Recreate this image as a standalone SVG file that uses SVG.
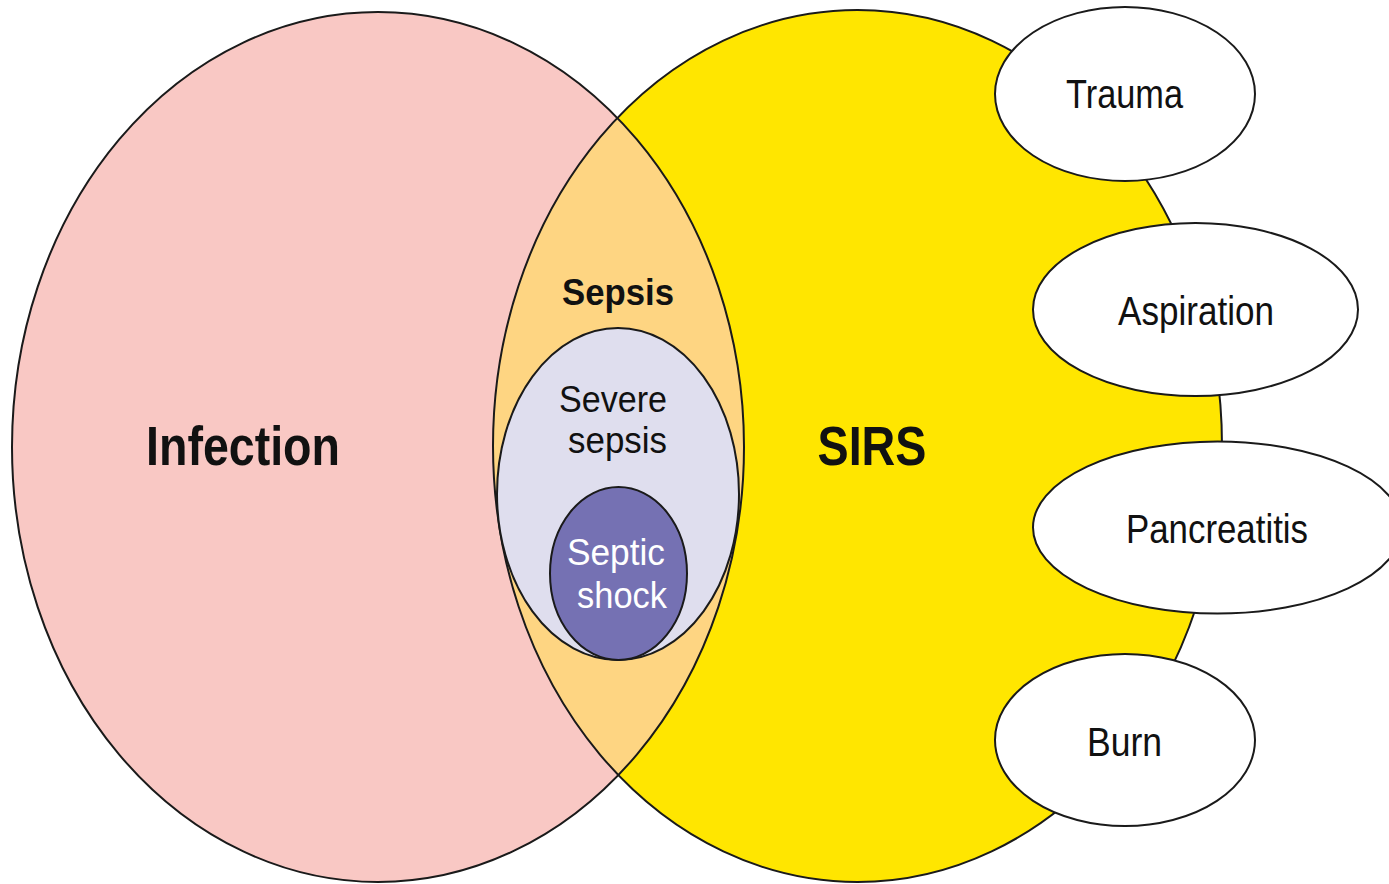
<svg xmlns="http://www.w3.org/2000/svg" width="1389" height="884" viewBox="0 0 1389 884">
<style>
.ol{stroke:#1a1a1a;stroke-width:2;}
.t{font-family:"Liberation Sans",Arial,sans-serif;fill:#111;text-anchor:middle;}
.b{font-weight:bold;}
</style>
<defs>
<clipPath id="clipInf"><ellipse cx="378" cy="447" rx="366" ry="435"/></clipPath>
</defs>
<rect width="1389" height="884" fill="#ffffff"/>
<g id="infection">
<ellipse cx="378" cy="447" rx="366" ry="435" fill="#F9C8C4"/>
</g>
<g id="sirs">
<ellipse cx="857.5" cy="446" rx="364.5" ry="436" fill="#FFE600"/>
</g>
<g id="sepsis">
<ellipse cx="857.5" cy="446" rx="364.5" ry="436" fill="#FED582" clip-path="url(#clipInf)"/>
<ellipse cx="378" cy="447" rx="366" ry="435" fill="none" class="ol"/>
<ellipse cx="857.5" cy="446" rx="364.5" ry="436" fill="none" class="ol"/>
<text class="t b" x="618" y="305" font-size="37" textLength="112" lengthAdjust="spacingAndGlyphs">Sepsis</text>
</g>
<g id="infection-label">
<text class="t b" x="243" y="465" font-size="55" textLength="194" lengthAdjust="spacingAndGlyphs">Infection</text>
</g>
<g id="sirs-label">
<text class="t b" x="872" y="465" font-size="55" textLength="109" lengthAdjust="spacingAndGlyphs">SIRS</text>
</g>
<g id="severe-sepsis">
<ellipse cx="618" cy="494" rx="121" ry="166" fill="#DFDEEE" class="ol"/>
<text class="t" x="613" y="412" font-size="37" textLength="108" lengthAdjust="spacingAndGlyphs">Severe</text>
<text class="t" x="617.5" y="453" font-size="37" textLength="99" lengthAdjust="spacingAndGlyphs">sepsis</text>
</g>
<g id="septic-shock">
<ellipse cx="618.5" cy="573.5" rx="68.5" ry="86.5" fill="#7571B3" class="ol"/>
<text class="t" x="616" y="565" font-size="37" textLength="98" lengthAdjust="spacingAndGlyphs" style="fill:#ffffff">Septic</text>
<text class="t" x="622" y="608" font-size="37" textLength="90" lengthAdjust="spacingAndGlyphs" style="fill:#ffffff">shock</text>
</g>
<g id="trauma">
<ellipse cx="1125" cy="94" rx="130" ry="87" fill="#ffffff" class="ol"/>
<text class="t" x="1124.5" y="108" font-size="40" textLength="117" lengthAdjust="spacingAndGlyphs">Trauma</text>
</g>
<g id="aspiration">
<ellipse cx="1195.5" cy="309.5" rx="162.5" ry="86.5" fill="#ffffff" class="ol"/>
<text class="t" x="1196" y="325" font-size="40" textLength="156" lengthAdjust="spacingAndGlyphs">Aspiration</text>
</g>
<g id="pancreatitis">
<ellipse cx="1217.5" cy="527.5" rx="184.5" ry="86" fill="#ffffff" class="ol"/>
<text class="t" x="1217" y="543" font-size="40" textLength="182" lengthAdjust="spacingAndGlyphs">Pancreatitis</text>
</g>
<g id="burn">
<ellipse cx="1125" cy="740" rx="130" ry="86" fill="#ffffff" class="ol"/>
<text class="t" x="1124.5" y="756" font-size="40" textLength="75" lengthAdjust="spacingAndGlyphs">Burn</text>
</g>
<g id="connectors"/>
</svg>
